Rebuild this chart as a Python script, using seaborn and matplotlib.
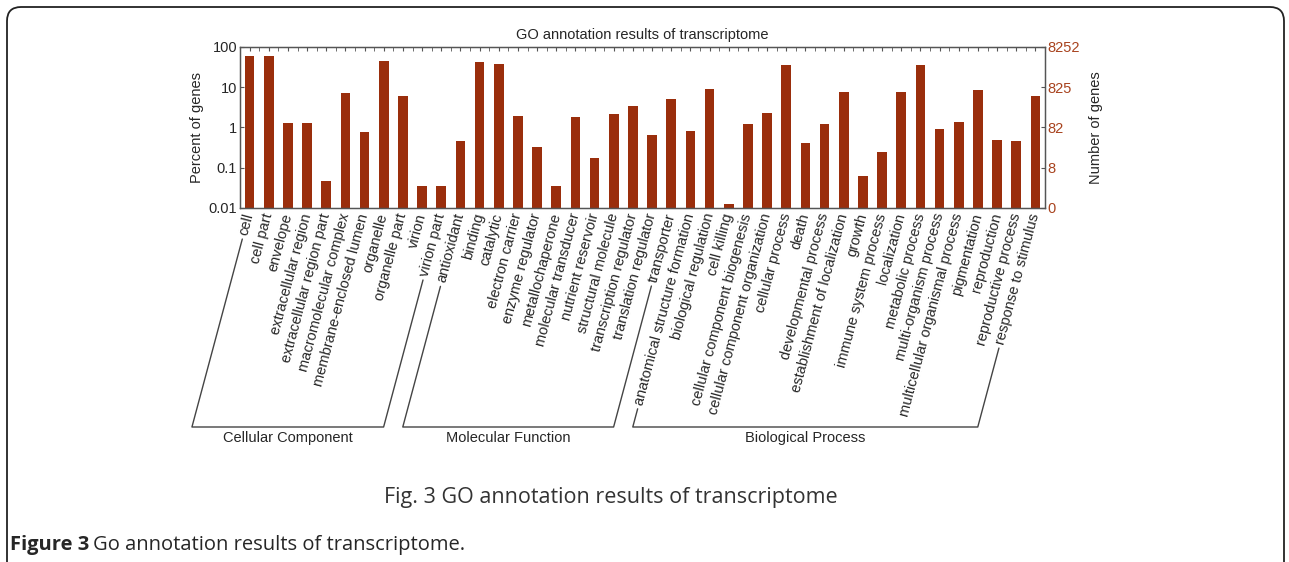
import numpy as np
import matplotlib
matplotlib.use("Agg")
import matplotlib.pyplot as plt
from matplotlib.lines import Line2D
from matplotlib.patches import FancyBboxPatch
from matplotlib.transforms import IdentityTransform
from matplotlib.ticker import NullLocator, FixedLocator
import seaborn as sns

# GO terms, left to right
categories = [
    "cell", "cell part", "envelope", "extracellular region",
    "extracellular region part", "macromolecular complex",
    "membrane-enclosed lumen", "organelle", "organelle part", "virion",
    "virion part",
    "antioxidant", "binding", "catalytic", "electron carrier",
    "enzyme regulator", "metallochaperone", "molecular transducer",
    "nutrient reservoir", "structural molecule", "transcription regulator",
    "translation regulator", "transporter",
    "anatomical structure formation", "biological regulation", "cell killing",
    "cellular component biogenesis", "cellular component organization",
    "cellular process", "death", "developmental process",
    "establishment of localization", "growth", "immune system process",
    "localization", "metabolic process", "multi-organism process",
    "multicellular organismal process", "pigmentation", "reproduction",
    "reproductive process", "response to stimulus",
]
# percent of genes
percent = [
    60, 61, 1.26, 1.26, 0.048, 7.1, 0.77, 45, 6.2, 0.036, 0.036,
    0.45, 41.7, 38.6, 1.95, 0.33, 0.036, 1.84, 0.17, 2.22, 3.44,
    0.65, 5.0,
    0.81, 9.1, 0.0123, 1.19, 2.31, 35, 0.42, 1.19, 7.5, 0.061, 0.25,
    7.5, 36.5, 0.94, 1.36, 8.75, 0.48, 0.45, 5.9,
]
groups = ["Cellular Component", "Molecular Function", "Biological Process"]
group_sizes = [11, 12, 19]

total_genes = 8252
left_ticks = [0.01, 0.1, 1, 10, 100]
left_ticklabels = ["0.01", "0.1", "1", "10", "100"]
right_ticklabels = ["0", "8", "82", "825", "8252"]

bar_color = "#9a2e0c"
right_color = "#a8431e"
W, H = 1289, 562
rot = 75

sns.set_style("white")
plt.rcParams["font.family"] = ["Liberation Sans", "DejaVu Sans"]

fig = plt.figure(figsize=(W / 100, H / 100), dpi=100)
ax = fig.add_axes([240 / W, 1 - 208 / H, 805 / W, 161 / H])

sns.barplot(x=categories, y=percent, order=categories, color=bar_color,
            saturation=1, width=0.5, linewidth=0, ax=ax)
ax.set_yscale("log")
ax.set_ylim(0.01, 100)
ax.set_xlim(-0.5, len(categories) - 0.5)
ax.yaxis.set_major_locator(FixedLocator(left_ticks))
ax.set_yticklabels(left_ticklabels, fontsize=10.5)
ax.yaxis.set_minor_locator(NullLocator())
ax.set_xticks(range(len(categories)))
ax.set_xticks(np.arange(len(categories) - 1) + 0.5, minor=True)
ax.set_xticklabels(categories, rotation=rot, ha="right", va="center",
                   rotation_mode="anchor", fontsize=10.5)
ax.tick_params(axis="x", which="both", direction="in", top=True,
               length=3, color="#555555", pad=4)
ax.tick_params(axis="y", which="both", direction="in", right=False,
               length=3, color="#555555", pad=2)
ax.set_ylabel("Percent of genes", fontsize=10.5, labelpad=3)
ax.set_xlabel("")
ax.set_title("GO annotation results of transcriptome", fontsize=10.5, pad=6)
for sp in ax.spines.values():
    sp.set_color("#555555")
    sp.set_linewidth(1)

ax2 = ax.twinx()
ax2.set_yscale("log")
ax2.set_ylim(0.01 * total_genes / 100, total_genes)
ax2.yaxis.set_major_locator(FixedLocator([total_genes * t / 100 for t in left_ticks]))
ax2.yaxis.set_minor_locator(NullLocator())
ax2.set_yticklabels(right_ticklabels, fontsize=10.5, color=right_color)
ax2.tick_params(axis="y", direction="in", length=3, color="#555555", pad=2)
ax2.set_ylabel("Number of genes", fontsize=10.5, labelpad=6)
for sp in ax2.spines.values():
    sp.set_color("#555555")

# group brackets drawn from the ends of the rotated labels
fig.canvas.draw()
renderer = fig.canvas.get_renderer()
labels = ax.get_xticklabels()
theta = np.deg2rad(rot)
d = np.array([np.cos(theta), np.sin(theta)])
nrm = np.array([-np.sin(theta), np.cos(theta)])
y_line = H - 427


def label_end(i):
    bb = labels[i].get_window_extent(renderer)
    h = 13.0
    p0 = np.array([bb.x0 + np.sin(theta) * h, bb.y0])
    mid = p0 + nrm * h / 2 - d * 4
    t = (mid[1] - y_line) / d[1]
    return mid, mid - d * t


start = 0
for name, size in zip(groups, group_sizes):
    a0, a1 = label_end(start)
    b0, b1 = label_end(start + size - 1)
    xs = [a0[0], a1[0], b1[0], b0[0]]
    ys = [a0[1], a1[1], b1[1], b0[1]]
    fig.add_artist(Line2D(np.array(xs) / W, np.array(ys) / H,
                          transform=fig.transFigure, color="#444444", lw=1))
    fig.text((a1[0] + b1[0]) / 2 / W, (y_line - 11) / H, name,
             ha="center", va="center", fontsize=10.5)
    start += size

# caption block
fig.text(611 / W, 1 - 498 / H, "Fig. 3 GO annotation results of transcriptome",
         ha="center", va="center", fontsize=15.5, color="#333333",
         family=["Open Sans", "DejaVu Sans"])
t1 = fig.text(10 / W, 1 - 545 / H, "Figure 3", ha="left", va="center",
              fontsize=14.5, fontweight="bold", family=["Open Sans", "DejaVu Sans"])
fig.canvas.draw()
bb = t1.get_window_extent(fig.canvas.get_renderer())
fig.text((bb.x1 + 4) / W, 1 - 545 / H, "Go annotation results of transcriptome.",
         ha="left", va="center", fontsize=14.5, family=["Open Sans", "DejaVu Sans"])

fig.add_artist(FancyBboxPatch((7, -40), 1277, H - 7 + 40,
                              boxstyle="round,pad=0,rounding_size=14",
                              transform=IdentityTransform(), fill=False,
                              ec="#222222", lw=1.3))

fig.savefig("out.png", dpi=100)
